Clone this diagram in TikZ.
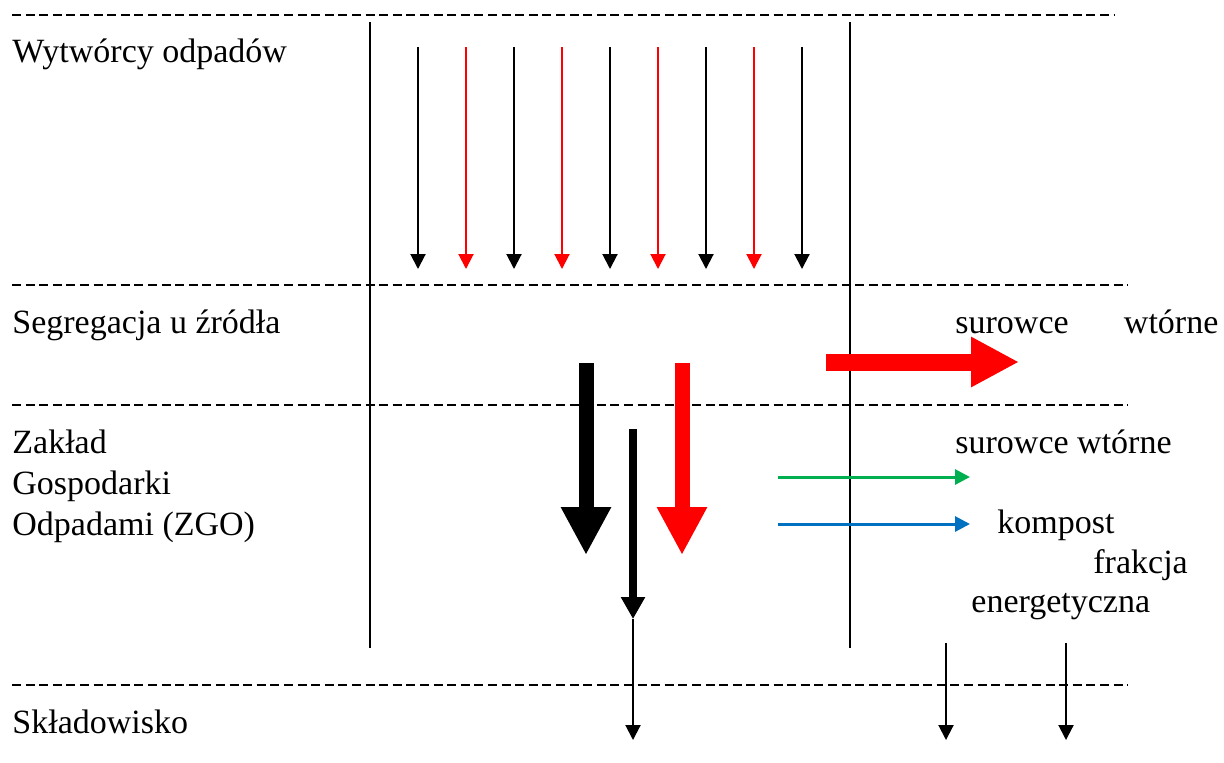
\documentclass[tikz,border=0pt]{standalone}
\usepackage{fontspec}
\setmainfont{Liberation Serif}
\usetikzlibrary{arrows.meta}
\definecolor{arrred}{RGB}{255,0,0}
\definecolor{arrgreen}{RGB}{0,176,80}
\definecolor{arrblue}{RGB}{0,112,192}
\tikzset{
  sepline/.style={line width=1pt,dash pattern=on 4.5pt off 2.3pt},
  colline/.style={line width=1pt},
  thinarr/.style={line width=1pt,-{Triangle[width=7.5pt,length=7.5pt]}},
  thickarr/.style={line width=7.5pt,-{Triangle[width=23.5pt,length=24pt]}},
  midarr/.style={line width=4pt,-{Triangle[width=11.5pt,length=11pt]}},
  sidearr/.style={line width=8.5pt,-{Triangle[width=23.5pt,length=24pt]}},
  flowarr/.style={line width=1.5pt,-{Triangle[width=7.5pt,length=7.5pt]}},
  lbl/.style={anchor=base west,inner sep=0pt,font=\fontsize{17}{20.5}\selectfont},
}
\begin{document}
\begin{tikzpicture}[x=0.5pt,y=-0.5pt]
\useasboundingbox (0,0) rectangle (1224,762);
% separator lines
\coordinate (s1a) at (12,15);  \coordinate (s1b) at (1115,15);
\coordinate (s2a) at (12,285); \coordinate (s2b) at (1128,285);
\coordinate (s3a) at (12,405); \coordinate (s3b) at (1128,405);
\coordinate (s4a) at (12,685); \coordinate (s4b) at (1128,685);
\draw[sepline] (s1a) -- (s1b);
\draw[sepline] (s2a) -- (s2b);
\draw[sepline] (s3a) -- (s3b);
\draw[sepline] (s4a) -- (s4b);
% column lines
\coordinate (c1a) at (370,22); \coordinate (c1b) at (370,648);
\coordinate (c2a) at (850,22); \coordinate (c2b) at (850,648);
\draw[colline] (c1a) -- (c1b);
\draw[colline] (c2a) -- (c2b);
% labels
\node[lbl] (wyt) at (12,62) {Wytwórcy odpadów};
\node[lbl] (seg) at (12,333) {Segregacja u źródła};
\node[lbl] (zak) at (12,453) {Zakład};
\node[lbl] (gos) at (12,494) {Gospodarki};
\node[lbl] (odp) at (12,535) {Odpadami (ZGO)};
\node[lbl] (skl) at (12,733) {Składowisko};
\node[lbl] (sw1) at (955,333) {\makebox[131.5pt][s]{surowce\hfill wtórne}};
\node[lbl] (sw2) at (955,453) {surowce wtórne};
\node[lbl] (kom) at (997,533) {kompost};
\node[lbl] (fra) at (1093,573) {frakcja};
\node[lbl] (ene) at (971,612) {energetyczna};
% thin arrows from producers
\foreach \i/\x/\c in {1/418/black,2/466/arrred,3/514/black,4/562/arrred,5/610/black,6/658/arrred,7/706/black,8/754/arrred,9/802/black}{
  \coordinate (t\i a) at (\x,47);
  \coordinate (t\i b) at (\x,269);
  \draw[thinarr,draw=\c,fill=\c] (t\i a) -- (t\i b);
}
% thick arrows
\coordinate (kba) at (586,363); \coordinate (kbb) at (586,555);
\coordinate (kra) at (682,363); \coordinate (krb) at (682,555);
\draw[thickarr,black] (kba) -- (kbb);
\draw[thickarr,arrred] (kra) -- (krb);
% medium arrow and continuation
\coordinate (ma) at (633,429); \coordinate (mb) at (633,619);
\coordinate (mc) at (633,740);
\draw[midarr] (ma) -- (mb);
\draw[thinarr] (mb) -- (mc);
% side red arrow
\coordinate (ra) at (826,362); \coordinate (rb) at (1019,362);
\draw[sidearr,arrred] (ra) -- (rb);
% green and blue arrows
\coordinate (ga) at (778,477); \coordinate (gb) at (970,477);
\coordinate (ba) at (778,524); \coordinate (bb) at (970,524);
\draw[flowarr,arrgreen] (ga) -- (gb);
\draw[flowarr,arrblue] (ba) -- (bb);
% bottom arrows
\coordinate (d1a) at (946,643); \coordinate (d1b) at (946,740);
\coordinate (d2a) at (1066,643); \coordinate (d2b) at (1066,740);
\draw[thinarr] (d1a) -- (d1b);
\draw[thinarr] (d2a) -- (d2b);
\end{tikzpicture}
\end{document}
